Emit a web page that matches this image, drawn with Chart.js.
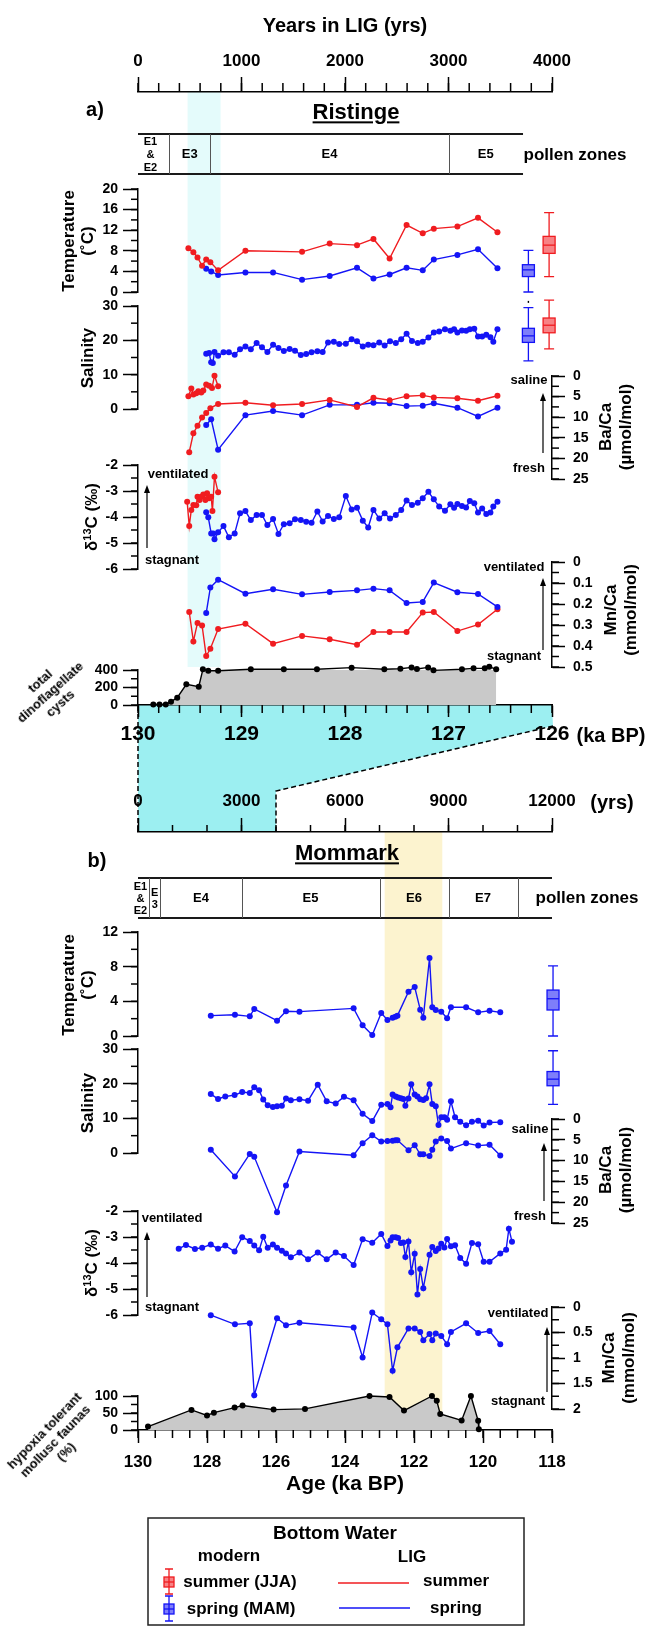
<!DOCTYPE html>
<html>
<head>
<meta charset="utf-8">
<title>Ristinge and Mommark bottom water records</title>
<script src="https://cdn.jsdelivr.net/npm/chart.js@4.4.1/dist/chart.umd.min.js"></script>
<style>
  body { margin: 0; background: #fff; }
  #page { position: relative; width: 650px; height: 1626px; overflow: hidden;
          font-family: 'Liberation Sans', Arial, sans-serif; font-weight: bold; color: #000; }
  #page canvas { position: absolute; left: 0; }
  .t { position: absolute; white-space: nowrap; line-height: 1.15; text-align: center;
       transform: translate(-50%, -50%); }
  .sup { font-size: 11px; position: relative; top: -6px; }
</style>
</head>
<body>
<div id="page"></div>
<script>
// ---------- a) Ristinge, x = years in LIG ----------
const ristTempSummerYrs = [487, 535, 575, 619, 659, 699, 774, 1038, 1585, 1852, 2116, 2275, 2431, 2595, 2751, 2858, 3086, 3285, 3473];
const ristTempSummer    = [8.5, 7.7, 6.7, 5.1, 6.3, 5.8, 4.2, 8.0, 7.8, 9.4, 9.1, 10.3, 6.5, 13.0, 11.4, 12.3, 12.7, 14.4, 11.6];
const ristTempSpringYrs = [659, 707, 774, 1038, 1305, 1585, 1852, 2116, 2275, 2431, 2595, 2751, 2858, 3086, 3285, 3473];
const ristTempSpring    = [4.5, 4.0, 3.3, 3.8, 3.8, 2.4, 3.1, 4.7, 2.6, 3.4, 4.7, 4.2, 6.3, 7.2, 8.3, 4.6];

const ristSalSummerYrs = [487, 515, 535, 563, 583, 611, 631, 659, 687, 715, 739, 774];
const ristSalSummer    = [3.7, 6.0, 4.2, 4.6, 5.2, 4.8, 5.4, 7.1, 6.8, 6.1, 9.7, 6.6];
const ristSalSpringYrs = [659, 687, 707, 723, 739, 774, 826, 878, 934, 986, 1038, 1090, 1146, 1198, 1250, 1305, 1357, 1409, 1465, 1517,
                          1573, 1625, 1677, 1733, 1784, 1836, 1892, 1944, 2008, 2064, 2116, 2172, 2224, 2275, 2331, 2383, 2435, 2491, 2543, 2595,
                          2647, 2703, 2751, 2806, 2858, 2910, 2966, 3018, 3054, 3086, 3130, 3170, 3206, 3249, 3285, 3325, 3365, 3405, 3433, 3473];
const ristSalSpring    = [16.1, 16.3, 13.6, 13.4, 16.6, 15.5, 16.5, 16.5, 15.8, 17.4, 18.2, 17.4, 19.2, 18.0, 16.6, 18.7, 17.8, 16.9, 17.5, 17.0,
                          15.7, 16.0, 16.5, 16.8, 16.6, 19.4, 19.6, 18.9, 19.0, 20.3, 19.7, 18.2, 18.7, 18.6, 19.4, 18.5, 19.7, 19.2, 20.3, 21.9,
                          19.8, 19.2, 19.6, 20.8, 22.3, 22.6, 23.2, 22.8, 23.2, 22.3, 22.9, 22.8, 23.2, 23.4, 21.1, 21.1, 21.6, 20.9, 19.6, 23.2];

const ristBaSummerYrs = [495, 535, 575, 619, 659, 699, 774, 1038, 1305, 1585, 1852, 2116, 2275, 2431, 2595, 2751, 2858, 3086, 3285, 3473];
const ristBaSummer    = [18.5, 13.9, 12.1, 10.1, 9.0, 7.8, 6.8, 6.5, 7.1, 6.8, 5.8, 7.5, 5.3, 5.9, 4.9, 4.7, 5.2, 5.4, 6.0, 4.8];
const ristBaSpringYrs = [659, 707, 774, 1038, 1305, 1585, 1852, 2116, 2275, 2431, 2595, 2751, 2858, 3086, 3285, 3473];
const ristBaSpring    = [11.9, 10.5, 17.9, 9.5, 8.5, 9.5, 7.0, 7.0, 6.5, 6.6, 7.3, 7.2, 6.6, 7.7, 9.8, 7.7];

const ristD13SummerYrs = [475, 495, 515, 535, 563, 575, 595, 611, 631, 651, 667, 687, 707, 719, 739, 774];
const ristD13Summer    = [-3.41, -4.35, -3.73, -3.54, -3.55, -3.22, -3.35, -3.22, -3.13, -3.35, -3.09, -3.28, -3.22, -3.77, -2.45, -3.05];
const ristD13SpringYrs = [659, 679, 707, 727, 739, 774, 826, 878, 934, 986, 1038, 1090, 1146, 1198, 1250, 1305, 1357, 1409, 1465, 1517,
                          1573, 1625, 1677, 1733, 1784, 1836, 1892, 1944, 2008, 2064, 2116, 2172, 2224, 2275, 2331, 2383, 2435, 2491, 2543, 2595,
                          2647, 2703, 2751, 2806, 2858, 2910, 2966, 3018, 3054, 3086, 3130, 3170, 3206, 3249, 3285, 3325, 3365, 3405, 3433, 3473];
const ristD13Spring    = [-3.82, -4.01, -4.63, -4.63, -4.86, -4.59, -4.35, -4.78, -4.63, -3.86, -3.77, -4.12, -3.92, -3.92, -4.31, -4.08, -4.65, -4.28, -4.24, -4.09,
                          -4.12, -4.18, -4.22, -3.79, -4.17, -3.96, -4.08, -4.01, -3.19, -3.71, -3.64, -4.14, -4.40, -3.73, -4.06, -3.86, -4.06, -3.92, -3.73, -3.37,
                          -3.54, -3.45, -3.28, -3.03, -3.32, -3.60, -3.76, -3.51, -3.64, -3.50, -3.58, -3.63, -3.38, -3.47, -3.83, -3.67, -3.88, -3.83, -3.60, -3.41];

const ristMnSpringYrs = [659, 699, 774, 1038, 1305, 1585, 1852, 2116, 2275, 2431, 2595, 2751, 2858, 3086, 3285, 3473];
const ristMnSpring    = [0.243, 0.122, 0.084, 0.151, 0.130, 0.154, 0.143, 0.135, 0.127, 0.135, 0.195, 0.190, 0.098, 0.144, 0.152, 0.214];
const ristMnSummerYrs = [495, 535, 575, 619, 659, 699, 774, 1038, 1305, 1585, 1852, 2116, 2275, 2431, 2595, 2751, 2858, 3086, 3285, 3473];
const ristMnSummer    = [0.238, 0.378, 0.290, 0.302, 0.448, 0.413, 0.319, 0.294, 0.389, 0.352, 0.368, 0.394, 0.333, 0.333, 0.333, 0.241, 0.238, 0.329, 0.298, 0.225];

const ristCystYrs = [148, 208, 268, 319, 379, 467, 587, 627, 679, 774, 1090, 1409, 1729, 2064, 2380, 2535, 2643, 2695, 2803, 2855, 3130, 3242, 3350, 3394, 3461];
const ristCysts   = [5, 5, 5, 38, 84, 236, 210, 408, 392, 392, 408, 408, 408, 427, 408, 415, 430, 411, 430, 396, 408, 419, 419, 438, 408];

// ---------- b) Mommark, x = age (ka BP) ----------
const momTempKa = [127.89, 127.19, 126.76, 126.63, 125.97, 125.71, 125.32, 123.75, 123.49, 123.21, 122.95, 122.77, 122.62, 122.54, 122.48,
                   122.16, 121.98, 121.82, 121.73, 121.55, 121.47, 121.37, 121.21, 121.04, 120.93, 120.49, 120.14, 119.81, 119.50];
const momTemp   = [2.35, 2.46, 2.27, 3.12, 1.77, 2.85, 2.81, 3.19, 1.23, 0.12, 2.65, 1.85, 2.12, 2.23, 2.35,
                   5.12, 5.65, 3.04, 2.12, 9.0, 3.31, 3.0, 2.81, 2.04, 3.31, 3.31, 2.73, 2.92, 2.73];

const momSalKa = [127.89, 127.68, 127.47, 127.20, 126.98, 126.76, 126.63, 126.49, 126.37, 126.24, 126.09, 125.97, 125.83, 125.71, 125.57,
                  125.32, 125.07, 124.79, 124.53, 124.27, 124.03, 123.75, 123.49, 123.21, 122.95, 122.77, 122.68, 122.62, 122.53, 122.46,
                  122.38, 122.31, 122.25, 122.16, 122.08, 121.98, 121.90, 121.82, 121.73, 121.65, 121.55, 121.47, 121.37, 121.29, 121.21,
                  121.12, 121.04, 120.93, 120.81, 120.66, 120.49, 120.32, 120.14, 119.98, 119.81, 119.50];
const momSal   = [17.0, 15.6, 16.3, 16.7, 17.6, 17.3, 19.0, 18.1, 15.4, 13.8, 13.3, 13.5, 13.6, 15.7, 15.2,
                  15.5, 15.1, 19.7, 14.9, 14.3, 16.2, 15.2, 11.3, 9.2, 13.9, 14.1, 13.2, 16.9, 16.3, 16.0,
                  15.8, 15.6, 13.6, 15.7, 19.8, 16.9, 16.3, 15.5, 15.3, 15.8, 19.8, 14.1, 13.5, 8.1, 10.3,
                  10.3, 9.6, 14.9, 10.3, 9.0, 8.0, 9.0, 9.3, 7.9, 8.8, 8.9];

const momBaKa = [127.89, 127.19, 126.76, 126.63, 125.97, 125.71, 125.32, 123.75, 123.49, 123.21, 122.95, 122.77, 122.62, 122.54, 122.48,
                 122.16, 121.98, 121.82, 121.73, 121.55, 121.47, 121.37, 121.21, 121.04, 120.93, 120.49, 120.14, 119.81, 119.50];
const momBa   = [7.4, 13.8, 8.4, 9.1, 22.4, 16.0, 7.8, 8.7, 5.8, 3.9, 5.4, 5.3, 5.2, 5.1, 5.1,
                 7.5, 6.3, 8.5, 8.5, 8.9, 7.4, 5.4, 4.7, 5.3, 7.1, 5.8, 6.4, 6.2, 8.8];

const momD13Ka = [128.82, 128.61, 128.35, 128.14, 127.89, 127.68, 127.47, 127.20, 126.98, 126.76, 126.63, 126.49, 126.37, 126.24, 126.09,
                  125.97, 125.83, 125.71, 125.57, 125.32, 125.07, 124.79, 124.53, 124.27, 124.03, 123.75, 123.49, 123.21, 122.95, 122.77,
                  122.68, 122.62, 122.53, 122.46, 122.38, 122.31, 122.25, 122.16, 122.08, 121.98, 121.90, 121.82, 121.73, 121.55, 121.47,
                  121.37, 121.29, 121.21, 121.12, 121.04, 120.93, 120.81, 120.66, 120.49, 120.32, 120.14, 119.98, 119.81, 119.50, 119.33,
                  119.25, 119.16];
const momD13   = [-3.45, -3.31, -3.46, -3.41, -3.29, -3.45, -3.33, -3.56, -3.01, -3.15, -3.33, -3.51, -2.99, -3.41, -3.29,
                  -3.41, -3.53, -3.63, -3.78, -3.60, -3.86, -3.60, -3.86, -3.60, -3.73, -4.08, -3.09, -3.22, -2.88, -3.35,
                  -3.13, -3.01, -3.01, -3.04, -3.23, -3.21, -3.77, -3.17, -4.36, -3.64, -5.21, -4.23, -4.97, -3.68, -3.38,
                  -3.54, -3.44, -3.26, -3.40, -3.08, -3.36, -3.32, -3.81, -4.03, -3.23, -3.28, -3.95, -3.95, -3.63, -3.49,
                  -2.68, -3.18];

const momMnKa = [127.89, 127.19, 126.76, 126.63, 125.97, 125.71, 125.32, 123.75, 123.49, 123.21, 122.95, 122.77, 122.62, 122.48,
                 122.16, 121.98, 121.82, 121.73, 121.55, 121.47, 121.37, 121.21, 121.04, 120.93, 120.49, 120.14, 119.81, 119.50];
const momMn   = [0.16, 0.34, 0.32, 1.73, 0.22, 0.36, 0.31, 0.40, 0.99, 0.11, 0.24, 0.34, 1.25, 0.79,
                 0.42, 0.42, 0.49, 0.65, 0.53, 0.65, 0.52, 0.57, 0.73, 0.49, 0.32, 0.51, 0.47, 0.73];

const momHypoxiaKa = [129.71, 128.45, 128.00, 127.80, 127.20, 126.97, 126.07, 125.16, 123.29, 122.71, 122.29, 121.48, 121.34, 121.24, 120.62, 120.35, 120.14, 120.12];
const momHypoxia   = [10, 59, 43, 51, 66, 72, 60, 62, 100, 97, 57, 100, 86, 47, 28, 100, 27, 2];

// modern bottom water: [whisker low, q1, median, q3, whisker high]
const modernTempSpring = [0, 3.0, 4.3, 5.3, 8.1];
const modernTempSummer = [3.0, 7.5, 9.1, 10.8, 15.4];
const modernSalSpring  = [14.0, 19.4, 21.3, 23.5, 29.5];
const modernSalSummer  = [17.5, 22.2, 24.4, 26.5, 31.7];
const modernSalSpringOutlier = 31.2;

// pollen zones and highlighted intervals
const ristZones = ['E1<br>&amp;<br>E2', 'E3', 'E4', 'E5'];
const ristZoneEdgesYrs = [0, 300, 700, 3000, 3720];
const momZones = ['E1<br>&amp;<br>E2', 'E<br>3', 'E4', 'E5', 'E6', 'E7'];
const momZoneEdgesKa = [130, 129.68, 129.35, 127.0, 123.0, 121.0, 119.0];
const ristBandYrs = [479, 798];
const momBandKa = [122.85, 121.18];
const ristSpanYrs = 4000;
const momSpanYrs = 12000;

// ---------------------------------------------------------------
Chart.defaults.font.family = "'Liberation Sans', Arial, sans-serif";
Chart.defaults.font.weight = 'bold';
Chart.defaults.color = '#000';

const page = document.getElementById('page');
const RED = 'rgb(240,28,32)';
const BLUE = 'rgb(20,20,246)';
const RED_FILL = 'rgba(240,28,32,0.55)';
const BLUE_FILL = 'rgba(20,20,246,0.55)';
const L = 138, R = 552;           // plot area left / right edge
const fmt = v => String(Math.round(v * 1000) / 1000);

function canvasAt(top, height) {
  const c = document.createElement('canvas');
  c.width = 650; c.height = height;
  c.style.top = top + 'px';
  c.style.width = '650px'; c.style.height = height + 'px';
  page.appendChild(c);
  return c.getContext('2d');
}

function line(xs, ys, color) {
  return { data: xs.map((x, i) => ({ x, y: ys[i] })), showLine: true, borderColor: color, backgroundColor: color,
           borderWidth: 1.4, pointRadius: 3, pointBorderWidth: 0, clip: false };
}

function area(xs, ys) {
  return { data: xs.map((x, i) => ({ x, y: ys[i] })), showLine: true, fill: 'origin', borderColor: '#000',
           backgroundColor: '#c9c9c9', pointBackgroundColor: '#000', borderWidth: 1.4, pointRadius: 3,
           pointBorderWidth: 0, clip: false };
}

// short ticks between the labelled ones
function minorTicks(id, step, len) {
  return {
    id: 'minor_' + id,
    afterDraw(chart) {
      const s = chart.scales[id], ctx = chart.ctx;
      const n = Math.round((s.max - s.min) / step);
      ctx.save();
      ctx.strokeStyle = '#000'; ctx.lineWidth = 1.5;
      for (let i = 0; i <= n; i++) {
        const p = s.getPixelForValue(s.min + i * step);
        ctx.beginPath();
        if (s.position === 'left') { ctx.moveTo(s.right, p); ctx.lineTo(s.right - len, p); }
        else if (s.position === 'right') { ctx.moveTo(s.left, p); ctx.lineTo(s.left + len, p); }
        else if (s.position === 'top') { ctx.moveTo(p, s.bottom); ctx.lineTo(p, s.bottom - len); }
        else { ctx.moveTo(p, s.top); ctx.lineTo(p, s.top + len); }
        ctx.stroke();
      }
      ctx.restore();
    }
  };
}

// modern box plots, drawn through the chart scales
function boxPlots(list) {
  return {
    id: 'boxes',
    afterDatasetsDraw(chart) {
      const ctx = chart.ctx, xs = chart.scales.x, ys = chart.scales.y;
      list.forEach(b => {
        const x = xs.getPixelForValue(b.at);
        const [lo, q1, med, q3, hi] = b.stats.map(v => ys.getPixelForValue(v));
        ctx.save();
        ctx.strokeStyle = b.color; ctx.lineWidth = 1.3;
        ctx.beginPath();
        ctx.moveTo(x, lo); ctx.lineTo(x, q1); ctx.moveTo(x, q3); ctx.lineTo(x, hi);
        ctx.moveTo(x - 5, lo); ctx.lineTo(x + 5, lo); ctx.moveTo(x - 5, hi); ctx.lineTo(x + 5, hi);
        ctx.stroke();
        ctx.fillStyle = b.fill;
        ctx.fillRect(x - 6, q3, 12, q1 - q3);
        ctx.strokeRect(x - 6, q3, 12, q1 - q3);
        ctx.beginPath(); ctx.moveTo(x - 6, med); ctx.lineTo(x + 6, med); ctx.stroke();
        if (b.outlier != null) {
          ctx.fillStyle = '#000';
          ctx.fillRect(x - 0.7, ys.getPixelForValue(b.outlier) - 1, 1.4, 2);
        }
        ctx.restore();
      });
    }
  };
}

// one stacked record with its own y axis
function subplot(o) {
  const pad = 14, W = 70, left = o.side === 'left';
  const ctx = canvasAt(o.top - pad, o.bottom - o.top + 2 * pad);
  return new Chart(ctx, {
    type: 'scatter',
    data: { datasets: o.datasets },
    options: {
      responsive: false, animation: false, devicePixelRatio: 1,
      layout: { padding: { top: pad, bottom: pad, left: left ? L - W : L, right: left ? 650 - R : 650 - R - W } },
      plugins: { legend: { display: false }, tooltip: { enabled: false } },
      scales: {
        x: { type: 'linear', display: false, min: o.x[0], max: o.x[1], reverse: !!o.x[2] },
        y: {
          type: 'linear', position: o.side, min: o.y[0], max: o.y[1], reverse: !!o.reverse,
          afterFit: s => { s.width = W; s.paddingTop = 0; s.paddingBottom = 0; },
          ticks: { stepSize: o.step, padding: left ? 5 : 8, autoSkip: false, font: { size: 14 }, callback: fmt },
          grid: { drawOnChartArea: false, tickLength: left ? 15 : 13, tickWidth: 1.5, tickColor: '#000' },
          border: { color: '#000', width: 1.5 }
        }
      }
    },
    plugins: [minorTicks('y', o.minor, 7)].concat(o.plugins || [])
  });
}

function axisX(position, a) {
  return {
    type: 'linear', position, axis: 'x', min: a.min, max: a.max, reverse: !!a.reverse,
    afterFit: s => { s.height = 50; s.paddingLeft = 0; s.paddingRight = 0; },
    ticks: { stepSize: a.step, padding: a.pad, autoSkip: false, maxRotation: 0, font: { size: a.font }, callback: fmt },
    grid: { drawOnChartArea: false, tickLength: a.tick, tickWidth: 1.5, tickColor: '#000' },
    border: { color: '#000', width: 1.5 }
  };
}

// full-page chart that owns the time axes of one panel
function frameChart(o) {
  const ctx = canvasAt(0, 1626);
  return new Chart(ctx, {
    type: 'scatter',
    data: { datasets: [] },
    options: {
      responsive: false, animation: false, devicePixelRatio: 1,
      layout: { padding: { left: L, right: 650 - R, top: o.top - 50, bottom: 1626 - o.bottom - 50 } },
      plugins: { legend: { display: false }, tooltip: { enabled: false } },
      scales: { xTop: axisX('top', o.topAxis), xBot: axisX('bottom', o.botAxis), y: { display: false, min: 0, max: 1 } }
    },
    plugins: o.plugins
  });
}

// pollen zone strip: outer lines from first edge to `end`, thin dividers at the inner edges
function zoneLines(ctx, sc, edges, end, y0, y1) {
  ctx.save();
  ctx.strokeStyle = '#1a1a1a'; ctx.lineWidth = 1.8;
  const a = sc.getPixelForValue(edges[0]), b = sc.getPixelForValue(end);
  ctx.beginPath(); ctx.moveTo(a, y0); ctx.lineTo(b, y0); ctx.moveTo(a, y1); ctx.lineTo(b, y1); ctx.stroke();
  ctx.strokeStyle = '#555'; ctx.lineWidth = 1;
  edges.slice(1).forEach(e => {
    if (e === end) return;
    const x = Math.round(sc.getPixelForValue(e)) + 0.5;
    ctx.beginPath(); ctx.moveTo(x, y0); ctx.lineTo(x, y1); ctx.stroke();
  });
  ctx.restore();
}

function arrowUp(ctx, x, y0, y1) {
  ctx.save();
  ctx.strokeStyle = '#000'; ctx.fillStyle = '#000'; ctx.lineWidth = 1.2;
  ctx.beginPath(); ctx.moveTo(x, y0); ctx.lineTo(x, y1 + 5); ctx.stroke();
  ctx.beginPath(); ctx.moveTo(x, y1); ctx.lineTo(x - 3, y1 + 8); ctx.lineTo(x + 3, y1 + 8); ctx.closePath(); ctx.fill();
  ctx.restore();
}

function boxIcon(ctx, x, y, color, fill) {
  ctx.save();
  ctx.strokeStyle = color; ctx.lineWidth = 1.3;
  ctx.beginPath();
  ctx.moveTo(x, y - 13); ctx.lineTo(x, y + 12);
  ctx.moveTo(x - 4, y - 13); ctx.lineTo(x + 4, y - 13); ctx.moveTo(x - 4, y + 12); ctx.lineTo(x + 4, y + 12);
  ctx.stroke();
  ctx.fillStyle = fill; ctx.fillRect(x - 5, y - 5, 10, 10); ctx.strokeRect(x - 5, y - 5, 10, 10);
  ctx.beginPath(); ctx.moveTo(x - 5, y); ctx.lineTo(x + 5, y); ctx.stroke();
  ctx.restore();
}

// ---------- panel a frame ----------
frameChart({
  top: 92, bottom: 705,
  topAxis: { min: 0, max: ristSpanYrs, step: 1000, pad: 5, font: 17, tick: 15 },
  botAxis: { min: 126, max: 130, reverse: true, step: 1, pad: 5, font: 21, tick: 12 },
  plugins: [
    minorTicks('xTop', 200, 9), minorTicks('xBot', 0.2, 8),
    {
      id: 'frameA',
      beforeDraw(chart) {
        const ctx = chart.ctx, a = chart.chartArea, xt = chart.scales.xTop;
        const lowX = a.left + (a.right - a.left) * ristSpanYrs / momSpanYrs;
        ctx.save();
        ctx.fillStyle = '#9ceff1';
        ctx.beginPath();
        ctx.moveTo(a.left, a.bottom); ctx.lineTo(a.right, a.bottom); ctx.lineTo(a.right + 1, 726);
        ctx.lineTo(lowX, 791); ctx.lineTo(lowX, 832); ctx.lineTo(a.left, 832); ctx.closePath(); ctx.fill();
        const b0 = xt.getPixelForValue(ristBandYrs[0]), b1 = xt.getPixelForValue(ristBandYrs[1]);
        ctx.fillStyle = '#e4fbfb';
        ctx.fillRect(b0, a.top, b1 - b0, 667 - a.top);
        ctx.restore();
        zoneLines(ctx, xt, ristZoneEdgesYrs, ristZoneEdgesYrs[ristZoneEdgesYrs.length - 1], 134, 174);
      },
      afterDraw(chart) {
        const ctx = chart.ctx, a = chart.chartArea;
        const lowX = a.left + (a.right - a.left) * ristSpanYrs / momSpanYrs;
        ctx.save();
        ctx.strokeStyle = '#000'; ctx.lineWidth = 1.5; ctx.setLineDash([5, 3]);
        ctx.beginPath();
        ctx.moveTo(a.left, a.bottom + 1); ctx.lineTo(a.left, 832);
        ctx.moveTo(a.right + 1, 726); ctx.lineTo(lowX, 791); ctx.lineTo(lowX, 832);
        ctx.stroke();
        ctx.restore();
        arrowUp(ctx, 543, 453, 393);
        arrowUp(ctx, 147, 548, 485);
        arrowUp(ctx, 543, 650, 578);
        arrowUp(ctx, 544, 1201, 1143);
        arrowUp(ctx, 147, 1297, 1232);
        arrowUp(ctx, 547, 1392, 1327);
      }
    }
  ]
});

// ---------- panel b frame ----------
frameChart({
  top: 832, bottom: 1430,
  topAxis: { min: 0, max: momSpanYrs, step: 3000, pad: 6, font: 17, tick: 14 },
  botAxis: { min: 118, max: 130, reverse: true, step: 2, pad: 9, font: 17, tick: 13 },
  plugins: [
    minorTicks('xTop', 1000, 7), minorTicks('xBot', 0.5, 8),
    {
      id: 'frameB',
      beforeDraw(chart) {
        const ctx = chart.ctx, a = chart.chartArea, xb = chart.scales.xBot;
        const b0 = xb.getPixelForValue(momBandKa[0]), b1 = xb.getPixelForValue(momBandKa[1]);
        ctx.save();
        ctx.fillStyle = '#fcf3cf';
        ctx.fillRect(b0, a.top, b1 - b0, a.bottom - a.top);
        ctx.restore();
        zoneLines(ctx, xb, momZoneEdgesKa, xb.min, 878, 918);
      },
      afterDraw(chart) {
        const ctx = chart.ctx;
        ctx.save();
        ctx.strokeStyle = '#222'; ctx.lineWidth = 1.5;
        ctx.strokeRect(148, 1518, 376, 107);
        ctx.lineWidth = 1.6;
        ctx.strokeStyle = RED; ctx.beginPath(); ctx.moveTo(338, 1583); ctx.lineTo(409, 1583); ctx.stroke();
        ctx.strokeStyle = BLUE; ctx.beginPath(); ctx.moveTo(339, 1608); ctx.lineTo(410, 1608); ctx.stroke();
        ctx.restore();
        boxIcon(ctx, 169, 1582, RED, RED_FILL);
        boxIcon(ctx, 169, 1609, BLUE, BLUE_FILL);
      }
    }
  ]
});

// ---------- panel a records ----------
const ristX = [0, ristSpanYrs];
subplot({ top: 189, bottom: 292, side: 'left', y: [0, 20], step: 4, minor: 2, x: ristX,
  datasets: [line(ristTempSummerYrs, ristTempSummer, RED), line(ristTempSpringYrs, ristTempSpring, BLUE)],
  plugins: [boxPlots([
    { at: 3772, stats: modernTempSpring, color: BLUE, fill: BLUE_FILL },
    { at: 3972, stats: modernTempSummer, color: RED, fill: RED_FILL }])] });
subplot({ top: 306, bottom: 409, side: 'left', y: [0, 30], step: 10, minor: 5, x: ristX,
  datasets: [line(ristSalSummerYrs, ristSalSummer, RED), line(ristSalSpringYrs, ristSalSpring, BLUE)],
  plugins: [boxPlots([
    { at: 3772, stats: modernSalSpring, color: BLUE, fill: BLUE_FILL, outlier: modernSalSpringOutlier },
    { at: 3972, stats: modernSalSummer, color: RED, fill: RED_FILL }])] });
subplot({ top: 376, bottom: 479, side: 'right', y: [0, 25], reverse: true, step: 5, minor: 2.5, x: ristX,
  datasets: [line(ristBaSummerYrs, ristBaSummer, RED), line(ristBaSpringYrs, ristBaSpring, BLUE)] });
subplot({ top: 465, bottom: 569, side: 'left', y: [-6, -2], step: 1, minor: 0.5, x: ristX,
  datasets: [line(ristD13SummerYrs, ristD13Summer, RED), line(ristD13SpringYrs, ristD13Spring, BLUE)] });
subplot({ top: 562, bottom: 667, side: 'right', y: [0, 0.5], reverse: true, step: 0.1, minor: 0.05, x: ristX,
  datasets: [line(ristMnSpringYrs, ristMnSpring, BLUE), line(ristMnSummerYrs, ristMnSummer, RED)] });
subplot({ top: 670, bottom: 705, side: 'left', y: [0, 400], step: 200, minor: 100, x: ristX,
  datasets: [area(ristCystYrs, ristCysts)] });

// ---------- panel b records ----------
const momX = [118, 130, true];
subplot({ top: 932, bottom: 1036, side: 'left', y: [0, 12], step: 4, minor: 2, x: momX,
  datasets: [line(momTempKa, momTemp, BLUE)],
  plugins: [boxPlots([{ at: 117.97, stats: modernTempSpring, color: BLUE, fill: BLUE_FILL }])] });
subplot({ top: 1049, bottom: 1153, side: 'left', y: [0, 30], step: 10, minor: 5, x: momX,
  datasets: [line(momSalKa, momSal, BLUE)],
  plugins: [boxPlots([{ at: 117.97, stats: modernSalSpring, color: BLUE, fill: BLUE_FILL }])] });
subplot({ top: 1119, bottom: 1223, side: 'right', y: [0, 25], reverse: true, step: 5, minor: 2.5, x: momX,
  datasets: [line(momBaKa, momBa, BLUE)] });
subplot({ top: 1211, bottom: 1315, side: 'left', y: [-6, -2], step: 1, minor: 0.5, x: momX,
  datasets: [line(momD13Ka, momD13, BLUE)] });
subplot({ top: 1307, bottom: 1409, side: 'right', y: [0, 2], reverse: true, step: 0.5, minor: 0.25, x: momX,
  datasets: [line(momMnKa, momMn, BLUE)] });
subplot({ top: 1396, bottom: 1430, side: 'left', y: [0, 100], step: 50, minor: 25, x: momX,
  datasets: [area(momHypoxiaKa, momHypoxia)] });

// ---------- text ----------
function text(html, x, y, size, o) {
  o = o || {};
  const d = document.createElement('div');
  d.className = 't';
  d.innerHTML = html;
  d.style.left = x + 'px'; d.style.top = y + 'px'; d.style.fontSize = size + 'px';
  if (o.rot) d.style.transform = 'translate(-50%,-50%) rotate(' + o.rot + 'deg)';
  if (o.lh) d.style.lineHeight = o.lh + 'px';
  if (o.u) d.style.textDecoration = 'underline';
  page.appendChild(d);
}
const xa = v => L + v / ristSpanYrs * (R - L);
const xb = v => L + (130 - v) / 12 * (R - L);

text('Years in LIG (yrs)', 345, 25, 20);
text('a)', 95, 109, 20);
text('Ristinge', 356, 112, 22, { u: 1 });
ristZones.forEach((z, i) => {
  const small = z.indexOf('<br>') >= 0;
  text(z, xa((ristZoneEdgesYrs[i] + ristZoneEdgesYrs[i + 1]) / 2) - (small ? 3 : 0), 154, small ? 11 : 13, small ? { lh: 13 } : {});
});
text('pollen zones', 575, 155, 17);
text('Temperature<br>(˚C)', 78, 241, 17, { rot: -90, lh: 19 });
text('Salinity', 88, 358, 17, { rot: -90 });
text('Ba/Ca<br>(µmol/mol)', 616, 427, 17, { rot: -90, lh: 20 });
text('saline', 529, 380, 13);
text('fresh', 529, 468, 13);
text('δ<span class="sup">13</span>C (‰)', 92, 517, 17, { rot: -90 });
text('ventilated', 178, 474, 13);
text('stagnant', 172, 560, 13);
text('ventilated', 514, 567, 13);
text('stagnant', 514, 656, 13);
text('Mn/Ca<br>(mmol/mol)', 621, 610, 17, { rot: -90, lh: 20 });
text('total<br>dinoflagellate<br>cysts', 50, 692, 13, { rot: -42, lh: 15 });
text('(ka BP)', 611, 735, 20);
text('(yrs)', 612, 802, 20);

text('b)', 97, 860, 20);
text('Mommark', 347, 853, 22, { u: 1 });
momZones.forEach((z, i) => {
  const small = z.indexOf('<br>') >= 0;
  text(z, xb((momZoneEdgesKa[i] + momZoneEdgesKa[i + 1]) / 2) - (i === 0 ? 3 : 0), 898, small ? 11 : 13, small ? { lh: 12 } : {});
});
text('pollen zones', 587, 898, 17);
text('Temperature<br>(˚C)', 78, 985, 17, { rot: -90, lh: 19 });
text('Salinity', 88, 1103, 17, { rot: -90 });
text('Ba/Ca<br>(µmol/mol)', 616, 1170, 17, { rot: -90, lh: 20 });
text('saline', 530, 1129, 13);
text('fresh', 530, 1216, 13);
text('δ<span class="sup">13</span>C (‰)', 92, 1263, 17, { rot: -90 });
text('ventilated', 172, 1218, 13);
text('stagnant', 172, 1307, 13);
text('ventilated', 518, 1313, 13);
text('stagnant', 518, 1401, 13);
text('Mn/Ca<br>(mmol/mol)', 619, 1358, 17, { rot: -90, lh: 20 });
text('hypoxia tolerant<br>mollusc faunas<br>(%)', 55, 1441, 13, { rot: -46, lh: 15 });
text('Age (ka BP)', 345, 1483, 21);

text('Bottom Water', 335, 1533, 19);
text('modern', 229, 1556, 17);
text('LIG', 412, 1557, 17);
text('summer (JJA)', 240, 1582, 17);
text('spring (MAM)', 241, 1609, 17);
text('summer', 456, 1581, 17);
text('spring', 456, 1608, 17);
</script>
</body>
</html>
